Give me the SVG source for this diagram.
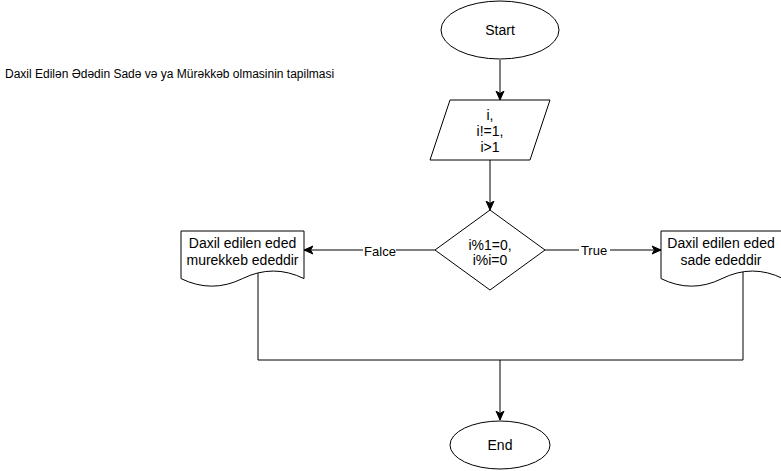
<svg xmlns="http://www.w3.org/2000/svg" width="781" height="471" viewBox="0 0 781 471">
<defs>
<style>
.s{fill:#fff;stroke:#000;stroke-width:1}
.t{font-family:"Liberation Sans",Arial,sans-serif;font-size:14px;fill:#000;text-anchor:middle}
.l{font-family:"Liberation Sans",Arial,sans-serif;font-size:13px;fill:#000;text-anchor:middle}
.c{fill:none;stroke:#000;stroke-width:1}
</style>
<marker id="a" markerUnits="userSpaceOnUse" markerWidth="10" markerHeight="10" viewBox="0 0 10 10" refX="9" refY="5" orient="auto">
<path d="M0,1 L9,5 L0,9 L2.5,5 z" fill="#000" stroke="#000" stroke-width="1"/>
</marker>
</defs>
<rect width="781" height="471" fill="#fff"/>
<text x="5" y="78" font-family="'Liberation Sans',Arial,sans-serif" font-size="12" fill="#000">Daxil Edilən Ədədin Sadə və ya Mürəkkəb olmasinin tapilmasi</text>
<g id="connectors">
<line class="c" x1="500" y1="60" x2="500" y2="100" marker-end="url(#a)"/>
<line class="c" x1="490" y1="160" x2="490" y2="210" marker-end="url(#a)"/>
<line class="c" x1="435" y1="250" x2="304" y2="250" marker-end="url(#a)"/>
<line class="c" x1="545" y1="250" x2="661" y2="250" marker-end="url(#a)"/>
<rect x="363" y="243" width="33" height="15" fill="#fff"/>
<text class="l" x="380" y="256">Falce</text>
<rect x="579" y="243" width="31" height="15" fill="#fff"/>
<text class="l" x="594" y="255">True</text>
<polyline class="c" points="258,273 258,360 743,360 743,272"/>
<line class="c" x1="500" y1="360" x2="500" y2="420" marker-end="url(#a)"/>
</g>
<g id="start">
<ellipse class="s" cx="500" cy="30" rx="59" ry="29"/>
<text class="t" x="500" y="35">Start</text>
</g>
<g id="input">
<polygon class="s" points="450,100 550,100 530,160 430,160"/>
<text class="t" x="490" y="120">i,</text>
<text class="t" x="490" y="136">i!=1,</text>
<text class="t" x="490" y="152">i&gt;1</text>
</g>
<g id="decision">
<polygon class="s" points="490,210 545,250 490,290 435,250"/>
<text class="t" x="490" y="250">i%1=0,</text>
<text class="t" x="490" y="265">i%i=0</text>
</g>
<g id="composite">
<path class="s" d="M181,231 L304,231 L304,278.6 Q273.25,263.5 242.5,278.6 Q211.75,293.7 181,278.6 Z"/>
<text class="t" x="242.5" y="248">Daxil edilen eded</text>
<text class="t" x="242.5" y="265">murekkeb ededdir</text>
</g>
<g id="prime">
<path class="s" d="M661,231 L783,231 L783,278.6 Q752.5,263.5 722,278.6 Q691.5,293.7 661,278.6 Z"/>
<text class="t" x="721" y="248">Daxil edilen eded</text>
<text class="t" x="721" y="265">sade ededdir</text>
</g>
<g id="end">
<ellipse class="s" cx="500" cy="445" rx="50" ry="24"/>
<text class="t" x="500" y="450">End</text>
</g>
</svg>
